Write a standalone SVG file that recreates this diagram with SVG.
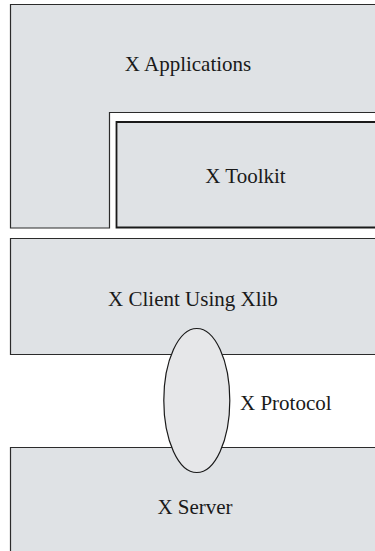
<svg xmlns="http://www.w3.org/2000/svg" width="375" height="551" viewBox="0 0 375 551">
<style>
.fill{fill:#dfe2e5;stroke:none}
.line{fill:none;stroke:#2b2b2b;stroke-width:1.2}
.tk{fill:#dfe2e5;stroke:#1a1a1a;stroke-width:1.8}
.ell{fill:#e6e7e9;stroke:#1a1a1a;stroke-width:1.2}
text{font-family:"Liberation Serif","DejaVu Serif",serif;font-size:21px;fill:#1a1a1a}
</style>
<rect width="375" height="551" fill="#ffffff"/>
<g id="x-applications">
<path class="fill" d="M380,4.5 H10.5 V228 H109.5 V112.5 H380 Z"/>
<path class="line" d="M380,4.5 H10.5 V228 H109.5 V112.5 H380"/>
<text x="188" y="70.5" text-anchor="middle">X Applications</text>
</g>
<g id="x-toolkit">
<path class="tk" d="M380,122 H116.5 V227.5 H380"/>
<text x="245.5" y="183" text-anchor="middle">X Toolkit</text>
</g>
<g id="x-client">
<path class="fill" d="M380,238.5 H10.5 V354.5 H380 Z"/>
<path class="line" d="M380,238.5 H10.5 V354.5 H380"/>
<text x="193" y="305.5" text-anchor="middle">X Client Using Xlib</text>
</g>
<g id="x-server">
<rect class="fill" x="10.5" y="447.5" width="370" height="110"/>
<path class="line" d="M380,447.5 H10.5 V560"/>
<text x="195" y="513.5" text-anchor="middle">X Server</text>
</g>
<g id="x-protocol">
<ellipse class="ell" cx="196.8" cy="400.5" rx="33" ry="72"/>
<text x="240" y="409.5">X Protocol</text>
</g>
<g id="connectors"></g>
</svg>
